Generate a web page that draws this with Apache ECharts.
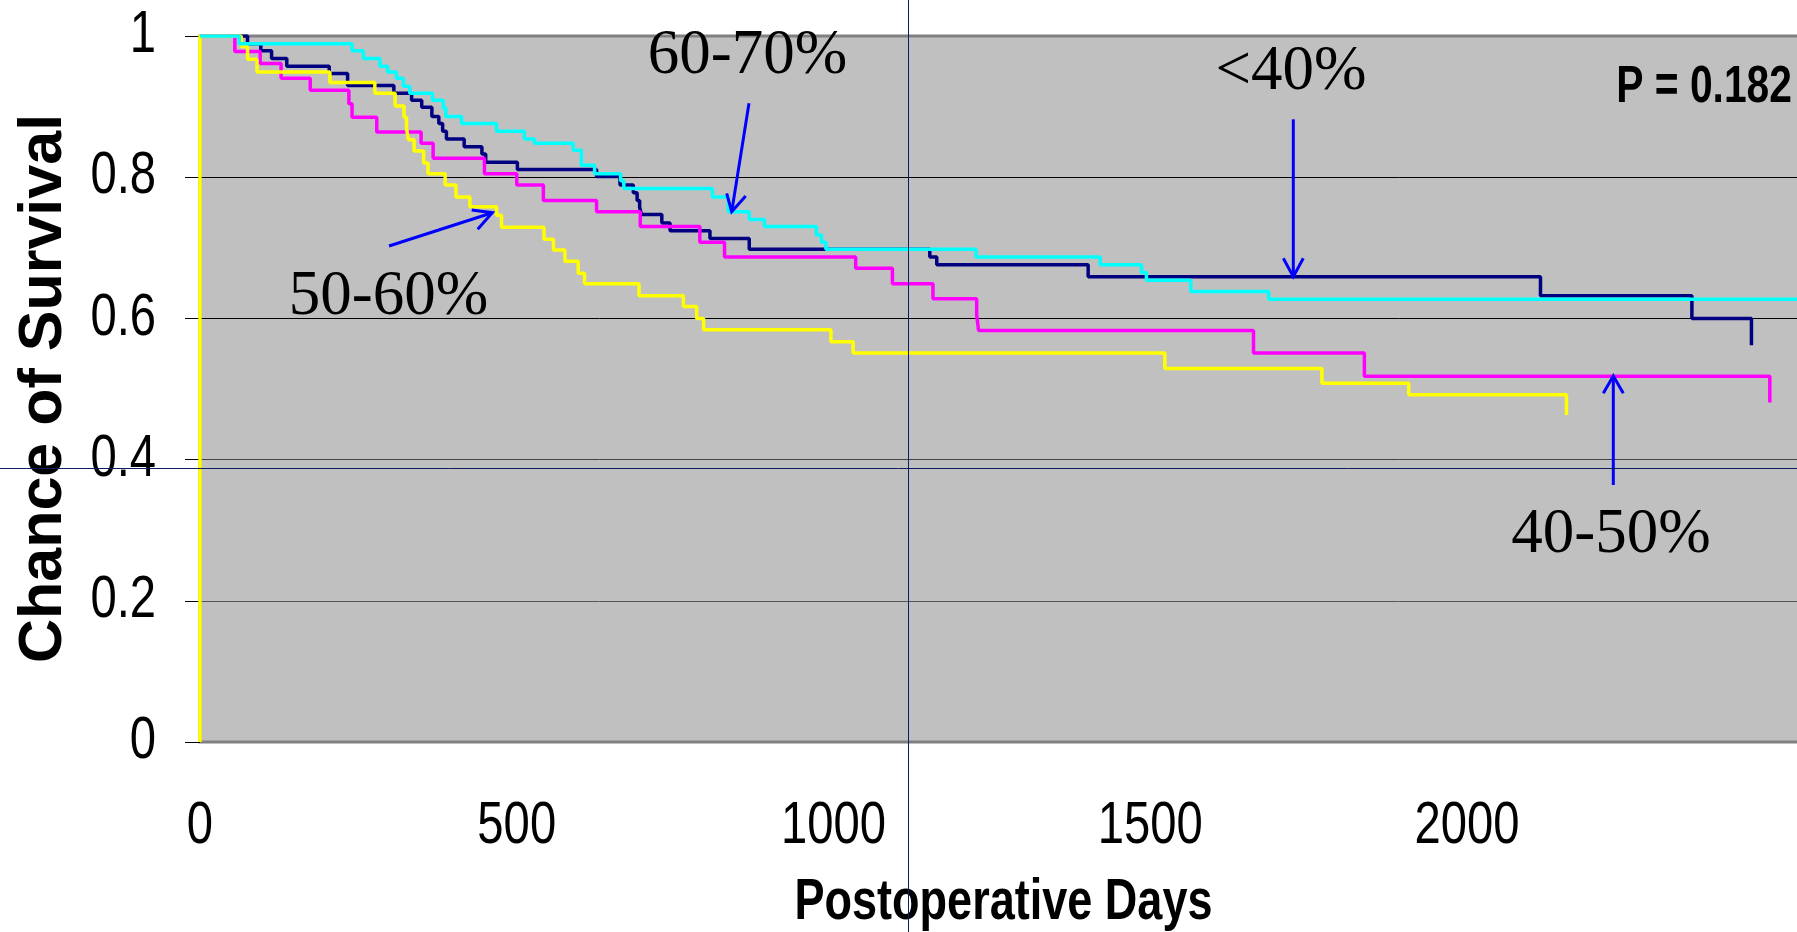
<!DOCTYPE html>
<html><head><meta charset="utf-8">
<script src="https://cdn.jsdelivr.net/npm/echarts@6/dist/echarts.min.js"></script>
<style>html,body{margin:0;padding:0;background:#fff;overflow:hidden}#c{width:1797px;height:932px}</style>
</head><body><div id="c"></div>
<script>
// ---- data ----
const xTickLabels = [0, 500, 1000, 1500, 2000];
const yTickLabels = [0, 0.2, 0.4, 0.6, 0.8, 1];
const groupNames = ['<40%', '40-50%', '50-60%', '60-70%'];

const lt40Days = [0, 75, 96, 113, 137, 204, 233, 306, 334, 350, 366, 377, 383, 389, 417, 445, 451, 501, 626, 663, 684, 690, 694, 697, 729, 742, 805, 867, 1152, 1163, 1402, 2116, 2355, 2449];
const lt40Surv = [1, 0.989, 0.979, 0.968, 0.957, 0.947, 0.930, 0.919, 0.909, 0.899, 0.886, 0.876, 0.865, 0.854, 0.843, 0.833, 0.821, 0.811, 0.801, 0.789, 0.778, 0.767, 0.757, 0.747, 0.735, 0.724, 0.713, 0.698, 0.687, 0.676, 0.659, 0.632, 0.600, 0.562];

const g4050Days = [0, 55, 95, 128, 174, 235, 240, 279, 349, 368, 449, 500, 542, 626, 695, 789, 828, 1035, 1093, 1157, 1226, 1229, 1663, 1838, 2478];
const g4050Surv = [1, 0.978, 0.961, 0.940, 0.923, 0.904, 0.885, 0.864, 0.848, 0.827, 0.805, 0.789, 0.767, 0.751, 0.730, 0.708, 0.687, 0.671, 0.649, 0.628, 0.605, 0.583, 0.551, 0.518, 0.481];

const g5060Days = [0, 0, 65, 75, 90, 205, 276, 308, 322, 326, 329, 338, 353, 360, 387, 404, 426, 468, 476, 543, 558, 576, 597, 607, 693, 763, 784, 795, 996, 1031, 1523, 1771, 1908, 2157];
const g5060Surv = [0, 1, 0.985, 0.967, 0.949, 0.934, 0.919, 0.901, 0.885, 0.869, 0.853, 0.837, 0.820, 0.805, 0.789, 0.772, 0.758, 0.746, 0.729, 0.712, 0.697, 0.681, 0.664, 0.649, 0.632, 0.617, 0.600, 0.584, 0.567, 0.551, 0.529, 0.508, 0.492, 0.463];

const g6070Days = [0, 62, 240, 258, 284, 296, 310, 321, 331, 367, 384, 388, 413, 468, 512, 528, 589, 602, 623, 664, 669, 809, 834, 867, 891, 973, 981, 988, 1225, 1421, 1486, 1494, 1564, 1687, 2600];
const g6070Surv = [1, 0.989, 0.979, 0.968, 0.957, 0.949, 0.940, 0.929, 0.919, 0.909, 0.898, 0.886, 0.876, 0.865, 0.854, 0.848, 0.838, 0.817, 0.805, 0.795, 0.784, 0.772, 0.751, 0.740, 0.730, 0.718, 0.708, 0.698, 0.687, 0.676, 0.665, 0.654, 0.638, 0.627, 0.627];

const pValueText = 'P = 0.182';
// ---------------------------------------

const zip = (a, b) => a.map((v, i) => [v, b[i]]);
const SANS = "'Liberation Sans',Arial,sans-serif";
const SERIF = "'Liberation Serif','Times New Roman',serif";
const NARROW_SCALE = 0.8;

const chart = echarts.init(document.getElementById('c'), null, {renderer: 'canvas'});

function mkSeries(name, days, surv, color) {
  return {
    name, type: 'line', step: 'end', showSymbol: false, symbol: 'none',
    data: zip(days, surv), clip: true,
    lineStyle: {color, width: 3.5}, itemStyle: {color},
    animation: false
  };
}

function arrow(x1, y1, x2, y2, b1, b2) {
  return [
    {type: 'polyline', z: 50, shape: {points: [[x1, y1], [x2, y2]]}, style: {stroke: '#0000FF', lineWidth: 3, fill: null}},
    {type: 'polyline', z: 50, shape: {points: [b1, [x2, y2], b2]}, style: {stroke: '#0000FF', lineWidth: 3, fill: null}}
  ];
}

const option = {
  animation: false,
  backgroundColor: '#ffffff',
  grid: {
    left: 200, top: 36, width: 1900.5, height: 706,
    outerBoundsMode: 'none', containLabel: false,
    show: true, backgroundColor: '#C0C0C0', borderColor: '#808080', borderWidth: 3
  },
  xAxis: {
    type: 'value', min: 0, max: 3000, interval: 500,
    axisLine: {show: false}, axisTick: {show: false}, splitLine: {show: false},
    axisLabel: {show: false}
  },
  yAxis: {
    type: 'value', min: 0, max: 1, interval: 0.2,
    axisLine: {show: false},
    axisTick: {show: true, inside: false, length: 15, lineStyle: {color: '#000', width: 1}},
    splitLine: {show: true, lineStyle: {color: ['#808080', '#555555', '#444444', '#000000', '#000000', '#808080'], width: 1}},
    axisLabel: {show: false}
  },
  series: [
    mkSeries(groupNames[0], lt40Days, lt40Surv, '#000080'),
    mkSeries(groupNames[1], g4050Days, g4050Surv, '#FF00FF'),
    mkSeries(groupNames[2], g5060Days, g5060Surv, '#FFFF00'),
    mkSeries(groupNames[3], g6070Days, g6070Surv, '#00FFFF')
  ]
};
chart.setOption(option);

// tick labels (narrow font emulated by horizontal scaling), placed through the axis scales
const labelEls = [];
xTickLabels.forEach(v => {
  const p = chart.convertToPixel({gridIndex: 0}, [v, 0]);
  labelEls.push({type: 'text', z: 60, x: p[0], y: p[1] + 85, scaleX: NARROW_SCALE,
    style: {text: String(v), font: '59px ' + SANS, fill: '#000', align: 'center', verticalAlign: 'middle'}});
});
yTickLabels.forEach(v => {
  const p = chart.convertToPixel({gridIndex: 0}, [0, v]);
  labelEls.push({type: 'text', z: 60, x: p[0] - 44, y: p[1], scaleX: NARROW_SCALE,
    style: {text: String(v), font: '59px ' + SANS, fill: '#000', align: 'right', verticalAlign: 'middle'}});
});

chart.setOption({
  graphic: [
    ...labelEls,
    // group labels
    {type: 'text', z: 60, x: 747.5, y: 56.7, style: {text: groupNames[3], font: '63px ' + SERIF, fill: '#000', align: 'center', verticalAlign: 'middle'}},
    {type: 'text', z: 60, x: 1291, y: 72, style: {text: groupNames[0], font: '63px ' + SERIF, fill: '#000', align: 'center', verticalAlign: 'middle'}},
    {type: 'text', z: 60, x: 388.5, y: 297, style: {text: groupNames[2], font: '63px ' + SERIF, fill: '#000', align: 'center', verticalAlign: 'middle'}},
    {type: 'text', z: 60, x: 1611, y: 535.5, style: {text: groupNames[1], font: '63px ' + SERIF, fill: '#000', align: 'center', verticalAlign: 'middle'}},
    {type: 'text', z: 60, x: 1792, y: 88.3, scaleX: 0.8, style: {text: pValueText, font: 'bold 51px ' + SANS, fill: '#000', align: 'right', verticalAlign: 'middle'}},
    // axis titles
    {type: 'text', z: 60, x: 44, y: 388.5, rotation: Math.PI / 2, style: {text: 'Chance of Survival', font: 'bold 61px ' + SANS, fill: '#000', align: 'center', verticalAlign: 'middle'}},
    {type: 'text', z: 60, x: 1003.5, y: 903, scaleX: 0.79, style: {text: 'Postoperative Days', font: 'bold 57px ' + SANS, fill: '#000', align: 'center', verticalAlign: 'middle'}},
    // arrows
    ...arrow(749, 103.3, 731.7, 211.7, [726.7, 193.3], [745.7, 196]),
    ...arrow(1293.3, 119.3, 1293.3, 276.7, [1283.3, 258.3], [1303.3, 258.3]),
    ...arrow(389, 246, 492.3, 212.7, [471.7, 210], [477.7, 229.3]),
    ...arrow(1613.3, 485, 1613.3, 376, [1603.3, 393.3], [1623.3, 393.3]),
    // thin navy crosshair lines present in the reference image
    {type: 'line', z: 70, shape: {x1: 908.5, y1: 0, x2: 908.5, y2: 932}, style: {stroke: '#0b1f5e', lineWidth: 1}},
    {type: 'line', z: 70, shape: {x1: 0, y1: 468.5, x2: 1797, y2: 468.5}, style: {stroke: '#0b1f5e', lineWidth: 1}}
  ]
});
</script>
</body></html>
